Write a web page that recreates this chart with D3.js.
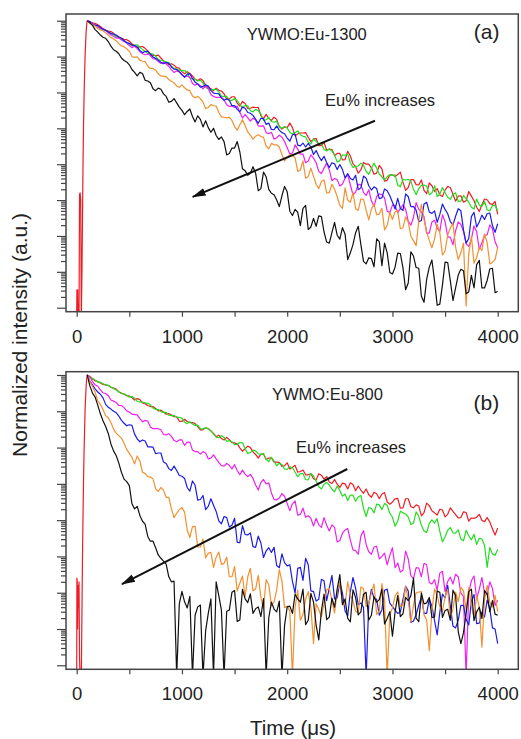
<!DOCTYPE html>
<html>
<head>
<meta charset="utf-8">
<script src="https://cdn.jsdelivr.net/npm/d3@7"></script>
<style>
  body { margin: 0; background: #fff; }
  svg text { font-family: "Liberation Sans", Arial, sans-serif; fill: #222; }
</style>
</head>
<body>
<div id="chart"></div>
<script>
// sampling times (µs)
const decayTime = [100,125,150,175,200,225,250,275,300,325,350,375,400,425,450,475,500,525,550,575,
  600,625,650,675,700,725,750,775,800,825,850,875,900,925,950,975,1000,1025,1050,1075,
  1100,1125,1150,1175,1200,1225,1250,1275,1300,1325,1350,1375,1400,1425,1450,1475,1500,1525,1550,1575,
  1600,1625,1650,1675,1700,1725,1750,1775,1800,1825,1850,1875,1900,1925,1950,1975,2000,2025,2050,2075,
  2100,2125,2150,2175,2200,2225,2250,2275,2300,2325,2350,2375,2400,2425,2450,2475,2500,2525,2550,2575,
  2600,2625,2650,2675,2700,2725,2750,2775,2800,2825,2850,2875,2900,2925,2950,2975,3000,3025,3050,3075,
  3100,3125,3150,3175,3200,3225,3250,3275,3300,3325,3350,3375,3400,3425,3450,3475,3500,3525,3550,3575,
  3600,3625,3650,3675,3700,3725,3750,3775,3800,3825,3850,3875,3900,3925,3950,3975,4000]
const riseTime = [0,2,5,9,13,18,22,27,32,38,44,50,55,60,65,70,75,80,85,90,95]
const xTicks = [0,500,1000,1500,2000,2500,3000,3500,4000]

// decay depth in decades below the peak (-log10 of normalized intensity)
// (a) YWMO:Eu-1300
const redRiseA = [8.3,7.5,7.6,7.5,8.3,8.3,8.3,4.85,4.8,5.0,8.3,7.0,5.5,4.0,2.9,2.1,1.5,.95,.6,.3,.1]
const redA = [0,.05,.06,.08,.11,.16,.22,.26,.29,.3,.35,.43,.47,.49,.52,.53,.57,.65,.69,.75,.73,.72,.77,.84,.92,.97,.97,.96,1.04,1.12,
  1.18,1.22,1.2,1.24,1.31,1.32,1.42,1.48,1.42,1.47,1.54,1.63,1.67,1.62,1.67,1.8,1.84,1.9,1.95,1.88,1.94,1.96,2.04,2.18,2.18,2.12,2.12,2.3,2.38,2.25,
  2.31,2.45,2.44,2.41,2.42,2.42,2.65,2.73,2.61,2.72,2.78,2.69,2.75,2.95,3.02,2.96,2.98,2.85,2.98,3.21,3.16,3.13,3.13,3.12,3.25,3.37,3.3,3.28,3.48,3.48,
  3.39,3.61,3.58,3.59,3.76,3.7,3.7,3.88,3.87,3.64,3.77,3.99,4.06,4.25,4.16,3.95,4.0,4.0,4.1,4.28,4.25,4.03,4.13,4.47,4.45,4.3,4.3,4.34,4.29,4.22,
  4.5,4.73,4.65,4.43,4.43,4.57,4.58,4.44,4.73,4.82,4.52,4.6,4.76,4.68,4.86,4.9,4.72,4.62,4.65,4.84,5.03,4.89,4.88,5.06,5.02,4.76,4.89,5.02,5.2,5.32,
  5.13,4.97,4.99,5.1,5.12,5.04,5.4]
const greenA = [0,.03,.09,.12,.15,.23,.26,.27,.32,.35,.39,.45,.49,.51,.55,.61,.65,.70,.68,.67,.74,.80,.86,.91,.92,.93,.99,1.08,1.11,1.12,
  1.15,1.17,1.27,1.33,1.35,1.38,1.39,1.39,1.45,1.6,1.62,1.63,1.68,1.66,1.74,1.86,1.9,1.93,1.92,1.91,1.98,2.1,2.11,2.11,2.22,2.22,2.17,2.23,2.33,2.43,
  2.36,2.37,2.51,2.54,2.47,2.51,2.6,2.78,2.76,2.7,2.81,2.83,2.8,2.96,3.0,2.95,2.99,3.11,3.16,3.12,3.07,3.18,3.22,3.24,3.38,3.44,3.29,3.37,3.43,3.43,
  3.59,3.63,3.57,3.63,3.74,3.94,3.9,3.74,3.75,3.72,3.96,4.09,4.06,4.05,3.97,4.03,4.2,4.28,4.12,3.97,4.11,4.28,4.35,4.44,4.35,4.29,4.31,4.3,4.58,4.63,
  4.42,4.44,4.42,4.47,4.7,4.85,4.68,4.59,4.58,4.61,4.85,4.8,4.6,4.9,4.84,4.65,4.79,4.92,4.98,4.84,4.8,5.04,5.03,4.87,4.96,5.06,5.2,5.25,4.97,5.14,
  5.17,5.04,5.27,5.3,5.15,5.15,5.3]
const magentaA = [0,.02,.07,.12,.18,.22,.23,.27,.34,.39,.44,.48,.49,.53,.58,.62,.69,.75,.71,.78,.86,.92,.95,.93,.97,1.06,1.07,1.14,1.19,1.16,
  1.21,1.27,1.37,1.44,1.4,1.43,1.51,1.56,1.54,1.58,1.75,1.8,1.76,1.81,1.9,1.82,1.89,2.06,2.11,2.14,2.14,2.13,2.21,2.34,2.39,2.38,2.42,2.38,2.55,2.71,
  2.62,2.7,2.8,2.72,2.76,2.93,2.94,2.93,3.12,3.15,3.11,3.3,3.27,3.19,3.25,3.37,3.54,3.71,3.69,3.46,3.58,3.72,3.72,3.96,3.91,3.74,3.83,3.96,4.2,4.26,
  4.11,3.97,4.16,4.46,4.4,4.43,4.61,4.55,4.39,4.29,4.58,4.85,4.78,4.56,4.57,4.79,4.87,4.71,5.02,5.18,4.9,4.83,4.85,4.94,5.31,5.35,5.14,5.15,5.35,5.24,
  5.13,5.26,5.59,5.7,5.48,5.07,5.26,5.33,5.46,5.92,5.92,5.61,5.56,5.78,5.87,5.41,5.6,6.02,6.04,6.25,5.86,5.61,5.68,5.88,6.22,6.29,6.09,5.72,5.88,6.37,
  6.19,5.98,5.97,5.69,5.8,6.16,6.33]
const blueA = [0,.03,.1,.13,.13,.19,.24,.27,.31,.36,.37,.4,.45,.49,.56,.61,.63,.68,.69,.73,.83,.89,.86,.85,.93,1.01,1.05,1.1,1.16,1.2,
  1.16,1.19,1.29,1.35,1.36,1.42,1.5,1.58,1.49,1.48,1.61,1.71,1.77,1.85,1.83,1.79,1.82,1.94,2.02,2.03,2.04,2.15,2.22,2.18,2.22,2.37,2.37,2.47,2.54,2.41,
  2.44,2.56,2.58,2.64,2.75,2.86,2.72,2.73,2.89,2.85,3.03,3.04,2.93,3.05,3.12,3.15,3.27,3.36,3.18,3.16,3.47,3.49,3.41,3.52,3.42,3.52,3.73,3.62,3.78,3.9,
  3.78,3.95,4.09,3.96,3.99,4.15,4.01,4.15,4.38,4.26,4.4,4.44,4.31,4.71,4.66,4.33,4.39,4.6,4.72,4.63,4.68,4.96,4.94,4.69,4.74,4.88,5.06,5.25,4.95,5.23,
  5.29,4.83,4.9,5.18,5.18,5.28,5.6,5.57,5.11,5.06,5.33,5.37,5.3,5.62,5.4,5.11,5.26,5.38,5.6,5.69,5.45,5.24,5.3,5.83,6.2,6.07,5.46,5.34,5.75,5.61,
  5.42,5.54,5.38,5.36,5.71,5.9,5.66]
const orangeA = [0,.07,.11,.15,.22,.26,.28,.34,.4,.47,.51,.56,.64,.7,.73,.78,.85,1.0,1.02,1.01,1.1,1.13,1.14,1.27,1.33,1.33,1.38,1.48,1.54,1.55,
  1.56,1.64,1.69,1.73,1.82,1.86,1.79,1.87,1.93,1.95,2.1,2.15,2.11,2.17,2.27,2.45,2.42,2.34,2.37,2.38,2.56,2.68,2.69,2.71,2.69,2.78,2.95,3.05,2.9,2.76,
  2.92,3.1,3.19,3.3,3.22,3.18,3.23,3.25,3.5,3.57,3.42,3.46,3.46,3.52,3.73,3.91,3.82,3.73,3.75,3.82,4.2,4.16,3.91,4.39,4.34,4.11,4.34,4.56,4.68,4.48,
  4.44,4.8,4.79,4.56,4.7,4.9,5.15,5.23,4.66,5.0,5.06,4.79,5.24,5.29,4.97,4.98,5.28,5.55,5.25,5.11,5.41,5.39,5.23,5.83,5.71,5.34,5.54,5.33,5.29,5.8,
  5.77,5.47,5.61,6.01,6.13,6.27,5.59,5.12,5.54,5.88,6.13,6.33,6.08,5.68,5.91,6.53,6.42,5.97,5.78,5.64,6.31,6.66,6.47,6.2,7.95,6.5,6.01,6.76,6.6,6.32,
  6.4,5.94,6.19,6.78,6.73,6.66,6.32]
const blackA = [0,.06,.13,.25,.32,.4,.46,.49,.58,.71,.81,.85,.92,1.04,1.11,1.15,1.23,1.36,1.44,1.54,1.44,1.47,1.66,1.68,1.73,1.9,1.95,1.88,1.91,2.04,
  2.11,2.27,2.25,2.17,2.29,2.41,2.5,2.62,2.53,2.46,2.67,2.82,2.65,2.75,2.96,2.79,2.98,3.11,3.0,3.2,3.31,3.24,3.37,3.74,3.7,3.55,3.55,3.37,3.66,4.13,
  4.18,4.31,4.25,4.07,4.25,4.74,4.68,4.22,4.35,4.7,4.81,4.85,5.0,5.18,4.88,4.62,4.77,5.31,5.43,5.26,5.34,5.71,5.23,5.15,5.82,5.75,5.51,5.73,5.44,5.46,
  5.89,6.17,6.2,5.91,5.62,5.98,6.09,5.77,5.95,6.66,6.47,6.24,5.91,5.73,6.24,6.71,6.78,6.61,6.63,6.86,6.08,6.16,6.83,6.2,6.47,7.02,7.06,6.87,6.48,6.49,
  6.89,7.5,7.31,6.44,6.56,6.88,6.9,7.68,7.85,7.21,6.87,6.67,7.26,7.93,7.9,7.37,6.73,6.74,7.25,7.8,7.45,7.09,6.93,6.97,7.61,7.56,7.1,7.45,6.8,6.68,
  7.45,7.45,7.24,6.92,6.9,7.58,7.55]

// (b) YWMO:Eu-800
const redRiseB = [8.3,5.6,5.7,7.0,5.8,6.4,5.7,7.8,8.3,8.3,8.3,6.5,5.0,3.9,2.9,2.1,1.5,.95,.6,.3,.1]
const redB = [0,.04,.11,.16,.18,.22,.26,.27,.29,.34,.36,.39,.46,.5,.53,.57,.58,.62,.69,.65,.68,.77,.79,.84,.87,.87,.92,.99,.97,1.02,
  1.08,1.06,1.1,1.15,1.15,1.27,1.28,1.22,1.28,1.31,1.31,1.34,1.42,1.51,1.51,1.45,1.48,1.54,1.61,1.7,1.66,1.75,1.79,1.72,1.78,1.86,1.87,1.9,2.01,2.1,
  2.03,1.96,2.0,2.12,2.19,2.29,2.18,2.18,2.33,2.29,2.28,2.4,2.4,2.41,2.52,2.5,2.42,2.59,2.54,2.49,2.68,2.66,2.62,2.75,2.75,2.72,2.86,2.89,2.72,2.76,
  2.87,2.8,2.95,2.99,2.88,3.01,3.1,2.98,3.0,3.14,2.97,3.02,3.19,3.06,3.17,3.26,3.14,3.3,3.37,3.23,3.27,3.41,3.28,3.24,3.5,3.56,3.5,3.41,3.4,3.67,
  3.66,3.41,3.41,3.63,3.66,3.58,3.61,3.88,3.79,3.53,3.6,3.74,3.8,3.86,3.7,3.72,3.91,3.84,3.66,3.76,3.85,3.94,3.93,3.77,3.79,4.03,3.94,3.95,3.92,3.84,
  4.01,4.04,3.93,4.05,4.24,4.41,4.22]
const greenB = [0,.06,.09,.14,.19,.2,.24,.28,.28,.33,.37,.41,.47,.51,.52,.56,.61,.59,.64,.73,.74,.75,.77,.78,.82,.91,.95,.95,1.01,1.03,
  1.03,1.11,1.12,1.12,1.16,1.17,1.19,1.3,1.34,1.29,1.35,1.39,1.38,1.48,1.49,1.45,1.49,1.54,1.62,1.71,1.73,1.67,1.72,1.83,1.81,1.84,1.92,1.91,1.86,1.87,
  2.03,2.16,2.14,2.07,2.09,2.17,2.19,2.16,2.32,2.39,2.27,2.37,2.5,2.43,2.47,2.59,2.6,2.53,2.55,2.68,2.8,2.72,2.72,2.88,2.89,2.71,2.79,2.92,3.08,3.14,
  3.01,2.96,3.03,3.15,3.22,3.06,3.18,3.34,3.28,3.46,3.31,3.31,3.48,3.36,3.32,3.68,3.9,3.65,3.68,3.8,3.56,3.58,3.71,3.54,3.59,3.81,3.92,4.17,4.03,3.75,
  3.8,3.83,3.91,4.12,4.08,3.77,3.89,4.14,4.3,4.34,4.09,3.99,4.08,3.96,4.31,4.6,4.46,4.28,4.2,4.35,4.36,4.27,4.52,4.57,4.28,4.43,4.54,4.39,4.67,4.5,
  4.52,4.7,5.3,4.75,4.93,4.97,4.81]
const magentaB = [0,.05,.18,.27,.31,.41,.49,.51,.57,.69,.72,.76,.84,.84,.9,.99,1.02,1.08,1.09,1.1,1.2,1.29,1.25,1.27,1.43,1.48,1.48,1.48,1.51,1.64,
  1.65,1.62,1.69,1.8,1.84,1.79,1.79,1.94,1.85,1.85,2.07,2.11,2.11,2.18,2.11,2.15,2.31,2.29,2.2,2.31,2.41,2.5,2.51,2.44,2.49,2.59,2.47,2.63,2.75,2.62,
  2.73,2.8,2.74,2.85,3.03,3.17,2.96,2.88,3.0,2.97,3.25,3.43,3.44,3.39,3.27,3.34,3.54,3.74,3.55,3.47,3.86,3.84,3.67,3.92,3.88,3.95,4.16,3.95,4.13,4.2,
  3.93,4.14,4.3,4.13,4.2,4.6,4.56,4.36,4.27,4.23,4.55,4.82,4.84,4.94,4.44,4.29,4.67,4.87,4.94,4.74,4.72,5.07,5.0,4.91,5.23,4.97,4.76,5.31,5.18,5.43,
  5.38,4.85,5.07,5.53,5.61,5.31,5.32,5.56,5.19,5.23,5.72,5.76,5.64,5.93,5.46,5.41,5.97,5.69,5.57,5.76,5.49,5.56,6.01,6.1,8.3,6.0,5.67,5.54,6.17,5.91,
  5.58,6.0,6.05,5.7,5.88,6.35,6.21]
const blueB = [0,.17,.27,.38,.47,.53,.63,.81,.89,.94,1.0,1.04,1.13,1.25,1.33,1.4,1.37,1.39,1.63,1.76,1.84,1.79,1.82,1.98,1.98,1.99,2.17,2.15,2.15,2.4,
  2.44,2.58,2.63,2.51,2.63,2.77,2.79,2.85,3.1,3.2,2.92,3.04,3.45,3.43,3.32,3.71,3.62,3.41,3.59,3.76,4.02,4.1,3.9,3.93,4.19,4.14,3.95,4.61,4.62,4.15,
  4.39,4.41,4.35,4.73,4.75,4.44,4.63,5.03,4.85,4.76,4.89,4.75,5.25,5.31,4.93,5.17,5.26,5.23,5.69,6.01,5.33,5.3,5.66,5.05,5.23,5.95,5.97,6.23,6.18,5.63,
  5.67,6.22,5.87,5.52,6.17,6.14,5.71,6.01,6.5,6.64,5.97,5.58,5.88,6.33,6.28,6.4,8.3,6.3,5.91,6.15,6.18,6.62,6.46,5.93,5.9,6.29,6.38,6.48,6.57,6.53,
  6.18,5.82,5.95,6.82,6.78,6.61,6.34,6.11,6.57,6.57,6.17,6.37,6.77,7.16,6.54,6.04,6.14,5.8,6.36,6.92,6.97,6.76,6.35,6.35,6.74,6.89,6.24,6.05,6.85,6.84,
  6.53,6.67,6.2,6.44,6.97,7.0,7.4]
const orangeB = [0,.17,.32,.47,.71,.81,.95,1.12,1.18,1.31,1.49,1.6,1.67,1.74,1.88,2.05,2.16,2.27,2.45,2.23,2.37,2.68,2.71,2.8,2.81,2.86,3.13,3.21,3.1,3.18,
  3.37,3.37,3.69,3.93,3.81,3.71,3.65,3.78,4.27,4.48,4.18,4.17,4.74,4.74,4.52,5.04,4.91,4.89,5.3,5.02,4.88,5.22,5.19,5.02,5.56,5.56,5.28,5.95,5.74,5.54,
  6.11,5.56,5.33,5.95,5.9,5.52,6.13,6.44,5.64,5.78,6.36,6.25,5.92,5.36,5.68,6.41,6.37,6.5,8.3,6.4,5.93,6.76,6.6,6.18,5.97,6.4,7.4,6.3,6.47,6.66,
  6.29,5.92,5.88,6.22,6.56,5.97,5.7,6.29,6.33,5.7,6.06,6.23,6.51,6.56,5.84,5.89,6.38,6.31,6.02,5.76,6.6,6.5,5.75,6.2,8.3,6.6,6.42,6.09,5.98,6.38,
  6.34,5.83,6.2,6.82,6.34,6.0,5.98,5.97,6.61,6.75,7.6,6.5,5.89,6.08,6.38,6.52,6.11,5.91,6.7,6.45,5.98,6.25,5.85,5.95,6.48,5.86,6.34,6.7,6.07,6.4,
  7.5,6.2,5.8,6.26,6.39,6.07,6.52]
const blackB = [0,.3,.5,.61,.83,1.07,1.26,1.42,1.61,1.9,2.09,2.22,2.43,2.68,2.87,2.94,3.05,3.55,3.69,3.62,3.87,4.03,4.11,4.45,4.58,4.58,4.76,4.96,5.05,5.13,
  5.21,5.56,5.7,5.68,8.3,6.3,5.96,6.25,6.42,6.1,8.3,6.62,6.39,6.34,8.3,7.05,6.57,6.17,8.3,5.7,6.08,6.48,8.3,6.51,6.48,5.99,5.94,6.79,6.75,5.91,
  6.17,6.27,6.03,6.57,6.44,6.39,6.66,6.16,8.3,6.69,6.26,6.45,6.53,6.23,8.3,6.9,6.39,6.37,6.57,6.04,6.17,6.26,5.9,6.88,6.76,6.02,6.26,6.89,7.3,6.5,
  6.04,6.74,6.67,6.15,6.4,5.9,5.5,6.33,6.17,6.71,6.8,5.92,6.13,6.61,6.53,6.04,5.99,6.75,6.62,6.11,6.26,6.19,5.9,6.86,6.71,6.52,7.2,6.53,6.08,6.66,
  6.58,6.13,6.22,6.08,5.6,6.7,6.8,6.01,6.31,6.28,6.13,6.68,6.67,5.95,5.99,6.68,6.49,6.46,6.76,5.93,6.08,7.07,7.4,7.1,6.58,5.97,5.9,6.77,6.53,6.4,
  6.71,5.94,6.04,6.52,6.22,6.59,6.62]

const W = 521, H = 739
const frameL = 66, frameR = 518.3
const colors = { red: '#ee1c24', green: '#22dd22', magenta: '#ee22ee', blue: '#1c1ce8', orange: '#f39030', black: '#111' }

const svg = d3.select('#chart').append('svg').attr('width', W).attr('height', H)
const defs = svg.append('defs')
defs.append('marker')
    .attr('id', 'head')
    .attr('viewBox', '0 -5 14 10')
    .attr('refX', 13).attr('refY', 0)
    .attr('markerWidth', 14).attr('markerHeight', 10)
    .attr('markerUnits', 'userSpaceOnUse')
    .attr('orient', 'auto')
    .append('path').attr('d', 'M0,-4L14,0L0,4Z').attr('fill', '#111')

const x = d3.scaleLinear().domain([0, 4000]).range([76.7, 497.7])

const panels = [
    { id: 'a', top: 14, bottom: 311.7, yRange: [307.7, 20.7],
      series: [['red', riseTime.concat(decayTime), redRiseA.concat(redA)], ['green', decayTime, greenA],
               ['magenta', decayTime, magentaA], ['blue', decayTime, blueA],
               ['orange', decayTime, orangeA], ['black', decayTime, blackA]],
      name: 'YWMO:Eu-1300', nameX: 306.7, nameY: 40, tag: '(a)', tagX: 486.7, tagY: 39,
      noteX: 325, noteY: 106, arrow: [[2834, 2.79], [1102, 4.91]] },
    { id: 'b', top: 371.7, bottom: 669.3, yRange: [665.3, 375],
      series: [['red', riseTime.concat(decayTime), redRiseB.concat(redB)], ['green', decayTime, greenB],
               ['magenta', decayTime, magentaB], ['blue', decayTime, blueB],
               ['orange', decayTime, orangeB], ['black', decayTime, blackB]],
      name: 'YWMO:Eu-800', nameX: 327.5, nameY: 400, tag: '(b)', tagX: 486.3, tagY: 410,
      noteX: 296, noteY: 453, arrow: [[2571, 2.59], [430, 5.76]] }
]

panels.forEach(p => {
    // log axis: 1 at the top decade tick down to 1e-8
    const y = d3.scaleLog().domain([1e-8, 1]).range(p.yRange)
    const yOf = depth => y(Math.pow(10, -depth))
    const g = svg.append('g')

    defs.append('clipPath').attr('id', 'clip-' + p.id)
        .append('rect')
        .attr('x', frameL).attr('y', p.top)
        .attr('width', frameR - frameL).attr('height', p.bottom - p.top)

    // decay curves
    const line = d3.line().x(d => x(d[0])).y(d => yOf(d[1]))
    g.append('g').attr('clip-path', `url(#clip-${p.id})`)
        .selectAll('path')
        .data(p.series)
        .enter()
        .append('path')
        .attr('d', s => line(s[1].map((t, i) => [t, s[2][i]]).filter(d => d[1] !== undefined)))
        .attr('fill', 'none')
        .attr('stroke', s => colors[s[0]])
        .attr('stroke-width', 1.2)
        .attr('stroke-linejoin', 'round')

    // frame
    g.append('rect')
        .attr('x', frameL).attr('y', p.top)
        .attr('width', frameR - frameL).attr('height', p.bottom - p.top)
        .attr('fill', 'none').attr('stroke', '#444').attr('stroke-width', 1.5)

    // y axis: decades plus minor ticks, no labels
    const all = y.ticks()
    const major = all.filter(v => Math.abs(Math.log10(v) - Math.round(Math.log10(v))) < 1e-9)
    const minor = all.filter(v => !major.includes(v))
    ;[[major, 9], [minor, 5]].forEach(([vals, len]) => {
        const ax = g.append('g').attr('transform', `translate(${frameL},0)`)
            .call(d3.axisLeft(y).tickValues(vals).tickSize(len).tickFormat(''))
        ax.select('.domain').remove()
        ax.selectAll('line').attr('stroke', '#444').attr('stroke-width', 1.2)
    })

    // x axis
    const xa = g.append('g').attr('transform', `translate(0,${p.bottom})`)
        .call(d3.axisBottom(x).tickValues(xTicks).tickSize(5).tickPadding(13)
              .tickFormat(v => v % 1000 === 0 ? v : ''))
    xa.select('.domain').remove()
    xa.selectAll('line').attr('stroke', '#444').attr('stroke-width', 1.2)
    xa.selectAll('text').attr('font-size', 18.5).attr('fill', '#222')
        .style('font-family', '"Liberation Sans", Arial, sans-serif')

    // annotations
    g.append('text').attr('x', p.nameX).attr('y', p.nameY)
        .attr('text-anchor', 'middle').attr('font-size', 16.5).text(p.name)
    g.append('text').attr('x', p.tagX).attr('y', p.tagY)
        .attr('text-anchor', 'middle').attr('font-size', 21).text(p.tag)
    g.append('text').attr('x', p.noteX).attr('y', p.noteY)
        .attr('font-size', 16.5).text('Eu% increases')
    g.append('line')
        .attr('x1', x(p.arrow[0][0])).attr('y1', yOf(p.arrow[0][1]))
        .attr('x2', x(p.arrow[1][0])).attr('y2', yOf(p.arrow[1][1]))
        .attr('stroke', '#111').attr('stroke-width', 2)
        .attr('marker-end', 'url(#head)')
})

svg.append('text')
    .attr('x', 293).attr('y', 735)
    .attr('text-anchor', 'middle').attr('font-size', 20.5)
    .text('Time (μs)')

svg.append('text')
    .attr('transform', 'translate(27,335) rotate(-90)')
    .attr('text-anchor', 'middle').attr('font-size', 21)
    .text('Normalized intensity (a.u.)')
</script>
</body>
</html>
